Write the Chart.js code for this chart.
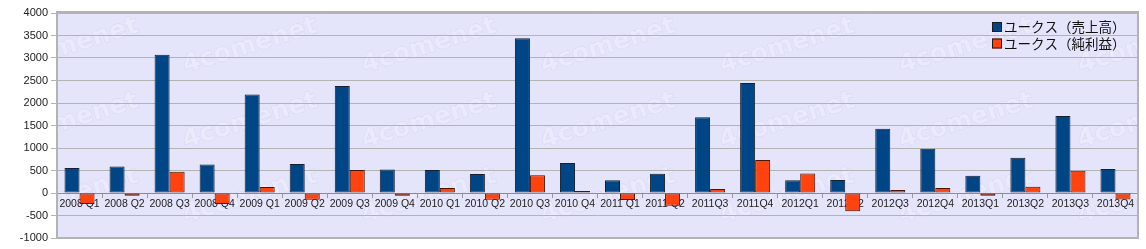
<!DOCTYPE html>
<html>
<head>
<meta charset="utf-8">
<script src="https://cdn.jsdelivr.net/npm/chart.js@4/dist/chart.umd.min.js"></script>
<style>
  html, body { margin: 0; padding: 0; background: #fff; }
  #wrap { width: 1146px; height: 249px; }
</style>
</head>
<body>
<div id="wrap"><canvas id="c" width="1146" height="249"></canvas></div>
<script>
/* ====== データ ====== */
const quarters = [
  "2008 Q1", "2008 Q2", "2008 Q3", "2008 Q4",
  "2009 Q1", "2009 Q2", "2009 Q3", "2009 Q4",
  "2010 Q1", "2010 Q2", "2010 Q3", "2010 Q4",
  "2011 Q1", "2011 Q2", "2011Q3", "2011Q4",
  "2012Q1", "2012Q2", "2012Q3", "2012Q4",
  "2013Q1", "2013Q2", "2013Q3", "2013Q4",
];
const sales = [
  555, 590, 3073, 636, 2191, 644, 2378, 524,
  511, 422, 3437, 667, 281, 429, 1681, 2444,
  281, 289, 1429, 984, 384, 784, 1711, 533,
];
const netIncome = [
  -244, -60, 473, -244, 133, -149, 511, -60,
  111, -149, 392, 44, -156, -282, 89, 733,
  436, -408, 67, 111, -60, 140, 496, -142,
];
const yTicks = [-1000, -500, 0, 500, 1000, 1500, 2000, 2500, 3000, 3500, 4000];

/* ====== 背景・枠・透かし・凡例 ====== */
const plotDeco = {
  id: "plotDeco",
  beforeDraw(chart) {
    const { ctx, chartArea: a } = chart;
    ctx.save();
    ctx.fillStyle = "#e4e4fb";
    ctx.fillRect(a.left, a.top, a.right - a.left, a.bottom - a.top);
    // 透かし（うすく）
    ctx.beginPath();
    ctx.rect(a.left, a.top, a.right - a.left, a.bottom - a.top);
    ctx.clip();
    ctx.font = "bold 25px 'DejaVu Sans'";
    ctx.textAlign = "center";
    ctx.textBaseline = "middle";
    ctx.fillStyle = "#eaeafc";
    ctx.strokeStyle = "#d9d9f3";
    ctx.lineWidth = 1.2;
    for (let row = 0; row < 3; row++) {
      for (let col = 0; col < 7; col++) {
        ctx.save();
        ctx.translate(71 + col * 179, 46 + row * 75);
        ctx.rotate(-0.3);
        ctx.strokeText("4comenet", 0, 0);
        ctx.fillText("4comenet", 0, 0);
        ctx.restore();
      }
    }
    ctx.restore();
  },
  afterDraw(chart) {
    const { ctx, chartArea: a } = chart;
    ctx.save();
    ctx.strokeStyle = "#b3b3b3";
    ctx.lineWidth = 2;
    ctx.strokeRect(a.left, a.top - 1, a.right - a.left, a.bottom - a.top + 1);
    // 凡例
    ctx.font = "13.5px 'Noto Sans CJK JP'";
    ctx.textBaseline = "middle";
    chart.data.datasets.forEach((ds, i) => {
      const y = a.top + 14 + i * 16.5;
      const x = 992;
      ctx.fillStyle = ds.backgroundColor;
      ctx.fillRect(x, y - 5, 10, 10);
      ctx.strokeStyle = "#1a1a1a";
      ctx.lineWidth = 1;
      ctx.strokeRect(x + 0.5, y - 4.5, 9, 9);
      ctx.fillStyle = "#111";
      ctx.fillText(ds.label, x + 12, y);
    });
    ctx.restore();
  },
};

/* ====== Chart ====== */
new Chart(document.getElementById("c").getContext("2d"), {
  type: "bar",
  data: {
    labels: quarters,
    datasets: [
      {
        label: "ユークス（売上高）",
        data: sales,
        backgroundColor: "#004586",
        borderColor: "#15212e",
        borderWidth: 1,
        borderSkipped: false,
      },
      {
        label: "ユークス（純利益）",
        data: netIncome,
        backgroundColor: "#ff420e",
        borderColor: "#4a1406",
        borderWidth: 1,
        borderSkipped: false,
      },
    ],
  },
  options: {
    responsive: false,
    animation: false,
    events: [],
    categoryPercentage: 0.667,
    barPercentage: 1.0,
    layout: { padding: { top: 13, right: 8, bottom: 11, left: 0 } },
    plugins: { legend: { display: false }, tooltip: { enabled: false } },
    scales: {
      x: {
        position: { y: 0 },
        grid: {
          offset: true,
          drawOnChartArea: false,
          tickLength: 4,
          color: "#999",
        },
        border: { color: "#8c8c8c", width: 1 },
        ticks: {
          color: "#222",
          font: { family: "'Liberation Sans'", size: 10.5 },
          maxRotation: 0,
          autoSkip: false,
          padding: 1,
        },
      },
      y: {
        min: -1000,
        max: 4000,
        afterBuildTicks: (s) => { s.ticks = yTicks.map((v) => ({ value: v })); },
        afterFit: (s) => { s.width = 57; },
        grid: { color: "#b3b3b3", tickLength: 6, lineWidth: 1 },
        border: { display: false },
        ticks: {
          color: "#222",
          font: { family: "'Liberation Sans'", size: 11 },
          padding: 3,
          callback: (v) => String(v),
        },
      },
    },
  },
  plugins: [plotDeco],
});
</script>
</body>
</html>
